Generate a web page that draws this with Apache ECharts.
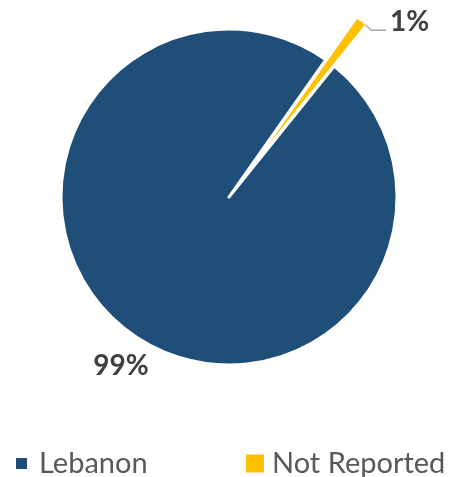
<!DOCTYPE html>
<html>
<head>
<meta charset="utf-8">
<script src="https://cdn.jsdelivr.net/npm/echarts@6/dist/echarts.min.js"></script>
<style>
  html, body { margin: 0; padding: 0; background: #fff; }
  #chart { width: 462px; height: 477px; }
</style>
</head>
<body>
<div id="chart"></div>
<script>
// Share of records by country
const categories = ['Lebanon', 'Not Reported'];
const values = [99, 1];
const colors = ['#1F4E79', '#FFC000'];

const FONT = 'Lato, "Open Sans", sans-serif';

// pie geometry
const CENTER = [229, 197];
const RADIUS = 168;
const START_ANGLE = 51.2;
const EXPLODE = 52;   // pull-out distance of the small slice
const BORDERS = [3, 1];

const total = values.reduce((a, b) => a + b, 0);
// the last slice sits just counter-clockwise of the start angle
const midAngle = (START_ANGLE + values[1] / total * 180) * Math.PI / 180;
const explodedCenter = [
  CENTER[0] + EXPLODE * Math.cos(midAngle),
  CENTER[1] - EXPLODE * Math.sin(midAngle)
];

const chart = echarts.init(document.getElementById('chart'), null, { renderer: 'canvas' });

// one layer per slice; the other slice is kept invisible so the angles line up
function layer(visibleIndex) {
  return categories.map((name, i) => {
    const on = i === visibleIndex;
    return {
      name,
      value: values[i],
      itemStyle: on
        ? { color: colors[i], borderColor: '#ffffff', borderWidth: BORDERS[i], borderJoin: 'round' }
        : { color: 'rgba(0,0,0,0)', borderWidth: 0 },
      label: { show: on },
      labelLine: { show: on && i === 1 }
    };
  });
}

const labelStyle = {
  position: 'outside',
  formatter: '{d}%',
  fontFamily: FONT,
  fontSize: 28,
  fontWeight: 'bold',
  color: '#404040'
};

const legendText = { fontFamily: FONT, fontSize: 29, color: '#595959' };

chart.setOption({
  animation: false,
  legend: [
    {
      data: [{ name: categories[0], itemStyle: { color: colors[0], opacity: 1 } }],
      left: 14,
      top: 449,
      padding: 0,
      itemWidth: 13,
      itemHeight: 13,
      icon: 'rect',
      textStyle: Object.assign({ padding: [0, 0, 0, 6] }, legendText)
    },
    {
      data: [{ name: categories[1], itemStyle: { color: colors[1], opacity: 1 } }],
      left: 246,
      top: 449,
      padding: 0,
      itemWidth: 18,
      itemHeight: 18,
      icon: 'rect',
      textStyle: Object.assign({ padding: [0, 0, 0, 3] }, legendText)
    }
  ],
  series: [
    {
      type: 'pie',
      center: CENTER,
      radius: RADIUS,
      startAngle: START_ANGLE,
      clockwise: true,
      silent: true,
      avoidLabelOverlap: false,
      emphasis: { disabled: true },
      label: labelStyle,
      labelLine: { show: false },
      labelLayout: function () {
        return { x: 121, y: 366, align: 'center', verticalAlign: 'middle' };
      },
      data: layer(0)
    },
    {
      type: 'pie',
      center: explodedCenter,
      radius: RADIUS,
      startAngle: START_ANGLE,
      clockwise: true,
      silent: true,
      avoidLabelOverlap: false,
      emphasis: { disabled: true },
      label: labelStyle,
      labelLine: {
        length: 8,
        length2: 12,
        lineStyle: { color: '#A6A6A6', width: 1.5 }
      },
      labelLayout: function (p) {
        const s = p.labelLinePoints ? p.labelLinePoints[0] : [362, 21];
        return {
          x: 390, y: 22, align: 'left', verticalAlign: 'middle',
          labelLinePoints: [s, [s[0] + 10, s[1] + 9], [386, s[1] + 9]]
        };
      },
      data: layer(1)
    }
  ]
});
</script>
</body>
</html>
